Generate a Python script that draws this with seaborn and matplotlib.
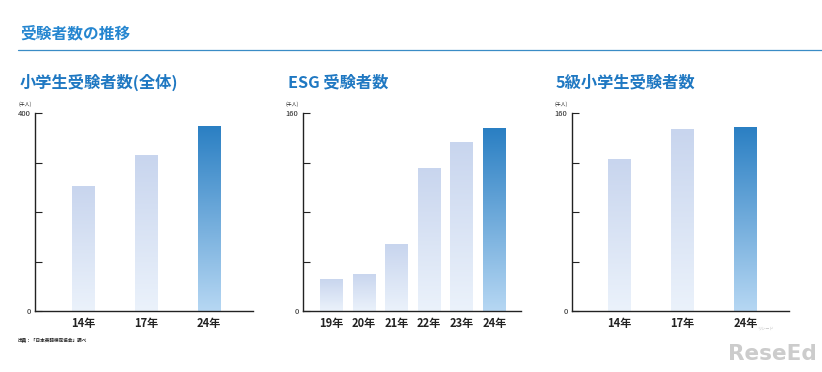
import numpy as np
import pandas as pd
import matplotlib
matplotlib.use("Agg")
import matplotlib.pyplot as plt
import seaborn as sns
from matplotlib.colors import LinearSegmentedColormap

sns.set_theme(style="white")
plt.rcParams['font.family'] = ['Noto Sans CJK JP', 'DejaVu Sans']

# ---- data (thousand people) ----
cats_all = ["14年", "17年", "24年"]
vals_all = [253, 315, 375]

cats_esg = ["19年", "20年", "21年", "22年", "23年", "24年"]
vals_esg = [26, 30, 54, 116, 137, 148]

cats_g5 = ["14年", "17年", "24年"]
vals_g5 = [123, 147, 149]

titles = ["小学生受験者数(全体)", "ESG 受験者数", "5級小学生受験者数"]
ymaxes = [400, 160, 160]

BLUE = "#2586d0"
TITLE_BLUE = "#1f78c2"

light_cmap = LinearSegmentedColormap.from_list("light", ["#ebf2fb", "#c8d5ee"])
dark_cmap = LinearSegmentedColormap.from_list("dark", ["#b6d7f3", "#2a7fc3"])

fig = plt.figure(figsize=(8.22, 3.72), dpi=100)

W, H = 822, 372
def fx(x): return x / W
def fy(y): return 1 - y / H

panels = [
    (cats_all, vals_all, 35, 253, 0.35, -0.76, 2.70),
    (cats_esg, vals_esg, 302.7, 520.7, 0.70, -0.88, 5.81),
    (cats_g5, vals_g5, 571.7, 789.3, 0.36, -0.75, 2.69),
]
title_x = [20, 288, 556]

for i, (cats, vals, x0, x1, bw, xl, xr) in enumerate(panels):
    ax = fig.add_axes([fx(x0), fy(311), fx(x1 - x0), (311 - 113.3) / H])
    df = pd.DataFrame({"cat": cats, "val": vals})
    sns.barplot(data=df, x="cat", y="val", ax=ax, width=bw, color="white",
                edgecolor="none", saturation=1)
    ymax = ymaxes[i]
    grad = np.linspace(0, 1, 256).reshape(-1, 1)
    n = len(ax.patches)
    for j, p in enumerate(ax.patches):
        bx, by = p.get_x(), p.get_y()
        bwid, bh = p.get_width(), p.get_height()
        cmap = dark_cmap if j == n - 1 else light_cmap
        im = ax.imshow(grad, cmap=cmap, origin="lower", aspect="auto",
                       extent=[bx, bx + bwid, by, by + bh], zorder=2)
        im.set_clip_path(p)
        p.set_facecolor("none")
    ax.set_xlim(xl, xr)
    ax.set_ylim(0, ymax)
    ax.set_xlabel("")
    ax.set_ylabel("")
    for s in ["top", "right"]:
        ax.spines[s].set_visible(False)
    for s in ["left", "bottom"]:
        ax.spines[s].set_color("#222222")
        ax.spines[s].set_linewidth(1.0)
    ax.set_yticks(np.linspace(0, ymax, 5))
    ax.set_yticklabels(["0", "", "", "", str(ymax)])
    ax.tick_params(axis="y", direction="in", length=5, width=0.8, color="#222222",
                   labelsize=5.5, pad=3, left=True)
    ax.tick_params(axis="x", length=0, labelsize=8, pad=4)
    for lab in ax.get_xticklabels():
        lab.set_fontweight("bold")
        lab.set_color("#222222")
    for lab in ax.get_yticklabels():
        lab.set_color("#222222")
    ax.set_facecolor("none")

    # unit label
    fig.text(fx(x0 - 17), fy(104), "(千人)", fontsize=3.5, color="#222222",
             ha="left", va="center")
    # panel title
    fig.text(fx(title_x[i]), fy(82), titles[i], fontsize=11.7, fontweight="bold",
             color=TITLE_BLUE, ha="left", va="center")

# header
fig.text(fx(20), fy(33), "受験者数の推移", fontsize=11.3, fontweight="bold",
         color=BLUE, ha="left", va="center")
fig.add_artist(plt.Line2D([fx(18), fx(822)], [fy(50), fy(50)], color="#3a8cc6",
                          linewidth=0.9))

# source
fig.text(fx(18), fy(340), "出典：「日本英語検定協会」調べ", fontsize=3.3,
         fontweight="bold", color="#222222", ha="left", va="center")

# watermark
fig.text(fx(728), fy(354), "ReseEd", fontsize=15.5, fontweight="bold",
         color="#cccccc", ha="left", va="center", family=["DejaVu Sans"])
fig.text(fx(757), fy(329), "リシード", fontsize=3, color="#c0c0c0",
         ha="left", va="center")

fig.savefig("out.png", dpi=100)
